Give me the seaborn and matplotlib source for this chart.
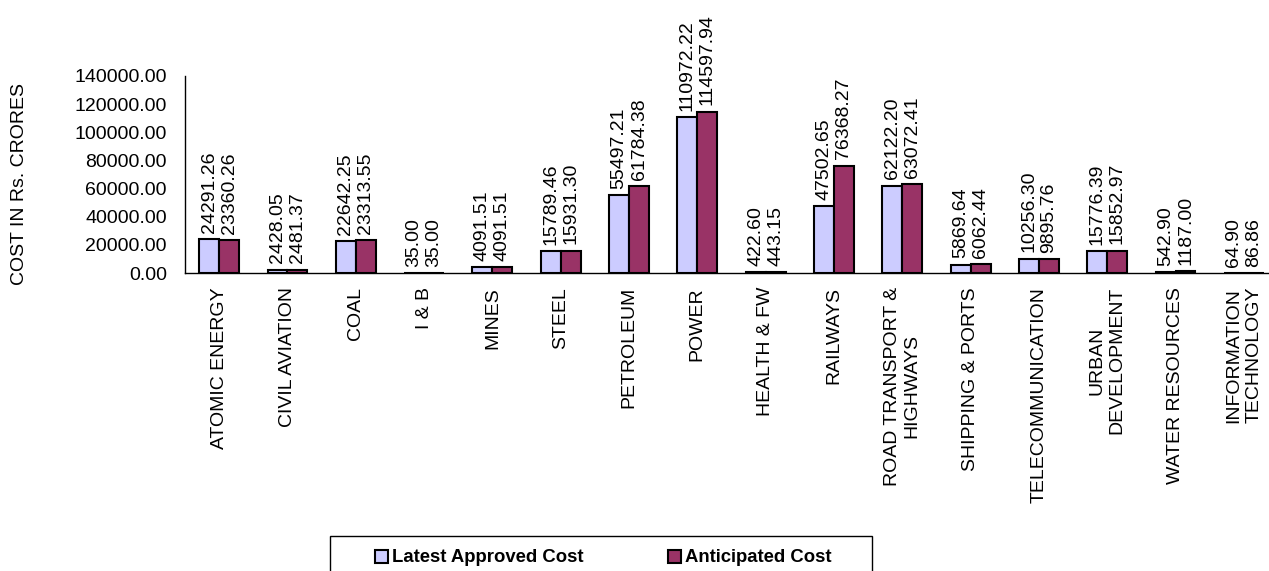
import numpy as np
import pandas as pd
import matplotlib
matplotlib.use('Agg')
import matplotlib.pyplot as plt
from matplotlib.patches import Patch, Rectangle
import seaborn as sns

# Categorias (ministerios) e custos em Rs. crores
categories = ['ATOMIC ENERGY', 'CIVIL AVIATION', 'COAL', 'I & B', 'MINES', 'STEEL',
              'PETROLEUM', 'POWER', 'HEALTH & FW', 'RAILWAYS',
              'ROAD TRANSPORT &\nHIGHWAYS', 'SHIPPING & PORTS', 'TELECOMMUNICATION',
              'URBAN\nDEVELOPMENT', 'WATER RESOURCES', 'INFORMATION\nTECHNOLOGY']
latest_approved = [24291.26, 2428.05, 22642.25, 35.00, 4091.51, 15789.46,
                   55497.21, 110972.22, 422.60, 47502.65,
                   62122.20, 5869.64, 10256.30, 15776.39, 542.90, 64.90]
anticipated = [23360.26, 2481.37, 23313.55, 35.00, 4091.51, 15931.30,
               61784.38, 114597.94, 443.15, 76368.27,
               63072.41, 6062.44, 9895.76, 15852.97, 1187.00, 86.86]
series_names = ['Latest Approved Cost', 'Anticipated Cost']
y_ticks = [0, 20000, 40000, 60000, 80000, 100000, 120000, 140000]

colors = {'Latest Approved Cost': '#CCCCFF', 'Anticipated Cost': '#993366'}

# Tabela no formato longo para o seaborn
df = pd.DataFrame({
    'Ministry': categories * 2,
    'Series': [series_names[0]] * len(categories) + [series_names[1]] * len(categories),
    'Cost': latest_approved + anticipated,
})

sns.set_style('white')
plt.rcParams['font.family'] = ['Liberation Sans', 'DejaVu Sans']
for key in ['text.color', 'axes.labelcolor', 'xtick.color', 'ytick.color']:
    plt.rcParams[key] = 'black'

fig = plt.figure(figsize=(12.69, 5.71), dpi=100)
ax = fig.add_axes([185 / 1269, 298 / 571, 1093 / 1269, 197 / 571])

sns.barplot(data=df, x='Ministry', y='Cost', hue='Series', hue_order=series_names,
            order=categories, palette=colors, width=0.584, edgecolor='black',
            linewidth=1.5, saturation=1, legend=False, ax=ax)

# Rotulos de valor acima das barras
for cont in ax.containers:
    ax.bar_label(cont, fmt='%.2f', rotation=90, padding=4.5, fontsize=14, color='black')

ax.set_ylim(0, 140000)
ax.set_xlim(-0.5, len(categories) - 0.5)
ax.set_yticks(y_ticks)
ax.set_yticklabels(['%.2f' % v for v in y_ticks], fontsize=14)
ax.set_xticks(np.arange(len(categories)))
ax.set_xticklabels(categories, rotation=90, fontsize=14, multialignment='center')
ax.set_xticks(np.arange(-0.5, len(categories)), minor=True)
ax.tick_params(axis='x', which='major', length=0, pad=10)
ax.tick_params(axis='x', which='minor', length=5, width=1, color='black', direction='out')
ax.tick_params(axis='y', length=5, width=1, color='black', direction='out', pad=8)
ax.set_xlabel('')
ax.set_ylabel('')

for side in ['top', 'right']:
    ax.spines[side].set_visible(False)
for side in ['left', 'bottom']:
    ax.spines[side].set_color('black')
    ax.spines[side].set_linewidth(1)

fig.text(20 / 1269, 1 - 184 / 571, 'COST IN Rs. CRORES', rotation=90,
         ha='center', va='center', fontsize=14)

# Legenda com moldura desenhada a parte
handles = [Patch(facecolor=colors[s], edgecolor='black', linewidth=1.5) for s in series_names]
fig.legend(handles=handles, labels=series_names, loc='center left',
           bbox_to_anchor=(375 / 1269, 1 - 558 / 571), ncol=2, frameon=False,
           borderpad=0, borderaxespad=0, handlelength=0.7, handleheight=0.7,
           handletextpad=0.2, columnspacing=4.6,
           prop={'weight': 'bold', 'size': 13.3})
fig.patches.append(Rectangle((330 / 1269, -0.05), 542 / 1269, 0.05 + 35 / 571,
                             transform=fig.transFigure, fill=False,
                             edgecolor='black', linewidth=1))

fig.savefig('out.png', dpi=100)
